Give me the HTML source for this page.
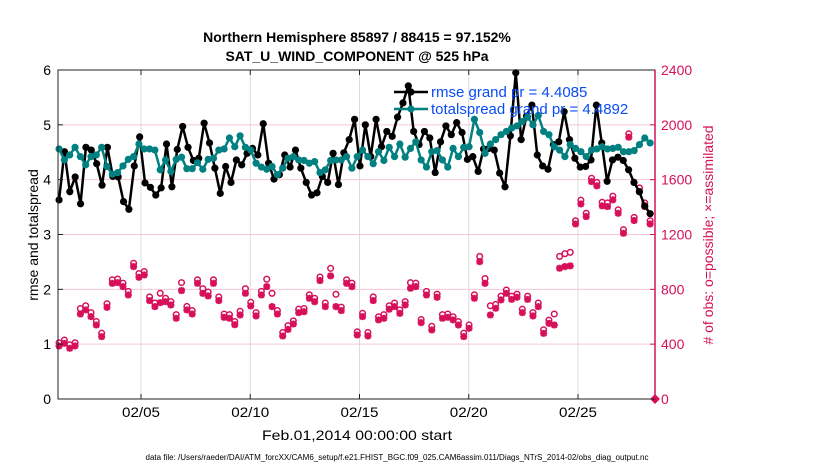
<!DOCTYPE html>
<html><head><meta charset="utf-8"><style>
body{margin:0;background:#fff;}
svg{display:block;font-family:"Liberation Sans",sans-serif;}
</style></head><body>
<svg id="chart" width="830" height="470" viewBox="0 0 830 470" xmlns="http://www.w3.org/2000/svg">
<rect width="830" height="470" fill="#fff"/>
<text x="357" y="42" text-anchor="middle" font-size="14" font-weight="bold">Northern Hemisphere 85897 / 88415 = 97.152%</text>
<text x="357" y="61" text-anchor="middle" font-size="14" font-weight="bold">SAT_U_WIND_COMPONENT @ 525 hPa</text>
<g id="grid"></g><g id="marks"></g><g id="axes"></g>
<text transform="translate(38,235) rotate(-90)" text-anchor="middle" font-size="14">rmse and totalspread</text>
<text transform="translate(713,235) rotate(-90)" text-anchor="middle" font-size="14" fill="#d6105a">#  of obs: o=possible; ×=assimilated</text>
<text x="357" y="440" text-anchor="middle" font-size="14" textLength="190" lengthAdjust="spacingAndGlyphs">Feb.01,2014 00:00:00 start</text>
<text x="397" y="460" text-anchor="middle" font-size="8" textLength="503" lengthAdjust="spacingAndGlyphs">data file: /Users/raeder/DAI/ATM_forcXX/CAM6_setup/f.e21.FHIST_BGC.f09_025.CAM6assim.011/Diags_NTrS_2014-02/obs_diag_output.nc</text>
<g id="legend"></g>
</svg>
<script>
const yTicks=[0,1,2,3,4,5,6];
const y2Ticks=[0,400,800,1200,1600,2000,2400];
const xTickDays=[5,10,15,20,25];
const xTickLabels=["02/05","02/10","02/15","02/20","02/25"];
const rmse=[3.63,4.51,3.78,4.05,3.56,4.59,4.54,4.29,3.90,4.59,4.06,4.05,3.60,3.46,4.25,4.78,3.94,3.86,3.72,3.85,4.65,3.87,4.55,4.97,4.59,4.35,4.39,5.03,4.67,
4.21,3.75,4.24,3.95,4.36,4.27,4.48,4.57,4.45,5.02,4.30,4.01,4.09,4.45,4.23,4.54,4.21,3.95,3.72,3.76,4.06,3.95,4.48,3.91,4.49,4.73,5.10,
4.25,5.00,4.42,5.10,4.60,4.88,4.79,5.14,5.40,5.71,4.88,4.64,4.88,4.76,4.13,4.69,4.98,4.82,5.04,4.86,4.37,4.42,4.15,4.56,4.57,4.54,4.12,3.87,
4.80,5.95,4.73,5.16,5.36,4.45,4.25,4.19,4.64,4.69,5.24,4.73,4.39,4.23,4.24,4.36,5.36,4.67,3.97,4.36,4.41,4.35,4.18,3.95,3.78,3.52,3.38];
const spread=[4.56,4.36,4.45,4.59,4.42,4.27,4.42,4.45,4.59,4.24,4.10,4.13,4.25,4.37,4.42,4.65,4.56,4.56,4.54,4.18,4.36,4.15,4.37,4.41,4.20,4.20,4.31,4.19,4.37,
4.39,4.54,4.56,4.76,4.60,4.80,4.59,4.54,4.30,4.23,4.19,4.24,4.09,4.21,4.39,4.42,4.36,4.35,4.30,4.33,4.13,4.18,4.35,4.36,4.36,4.42,4.21,4.42,4.54,
4.42,4.29,4.51,4.35,4.59,4.42,4.65,4.41,4.57,4.69,4.36,4.23,4.51,4.53,4.36,4.23,4.57,4.42,4.59,4.60,5.10,4.86,4.48,4.65,4.73,4.82,4.88,
4.94,4.98,5.06,5.14,5.00,5.17,4.88,4.82,4.60,4.54,4.42,4.64,4.57,4.51,4.42,4.54,4.56,4.60,4.56,4.57,4.59,4.51,4.51,4.53,4.64,4.76,4.67];
const assimilated=[387,406,370,387,620,650,601,540,455,669,844,849,820,759,966,888,905,718,674,703,710,686,589,791,650,620,844,771,752,
844,718,596,589,542,613,771,679,606,759,820,674,620,460,508,547,630,637,735,710,864,674,898,674,645,844,820,467,
601,460,718,577,589,655,674,625,686,808,820,557,759,504,742,589,596,577,540,455,516,735,1002,844,613,662,723,771,
727,742,630,727,606,674,479,552,540,954,966,971,1277,1423,1331,1586,1555,1409,1404,1453,1355,1209,1910,1302,1513,1404,1277];
const possible=[410,430,395,410,660,680,630,565,480,695,870,875,845,785,990,915,930,745,700,771,735,710,615,849,675,645,870,805,780,
870,745,620,615,565,640,805,705,630,785,874,771,645,485,535,570,655,660,760,735,890,700,953,764,670,870,845,490,
625,485,745,600,615,680,700,650,710,849,845,580,785,530,765,615,620,600,565,480,540,760,1040,879,680,690,750,795,
750,765,655,750,630,700,505,575,620,1040,1060,1070,1300,1450,1355,1610,1580,1435,1430,1480,1380,1235,1935,1325,1540,1430,1300];
const tStart=1.25, tEnd=28.3;
const L=58,R=655,T=70,B=399;
const xS=t=>141+(t-5)*21.85;
const yS=v=>B-(v/6)*(B-T);
const y2S=v=>B-(v/2400)*(B-T);
const tOf=(i,n)=>tStart+i*(tEnd-tStart)/(n-1);
const NS="http://www.w3.org/2000/svg";
function mk(tag,attrs,parent){const e=document.createElementNS(NS,tag);for(const k in attrs)e.setAttribute(k,attrs[k]);parent.appendChild(e);return e;}
const grid=document.getElementById('grid'),marks=document.getElementById('marks'),axes=document.getElementById('axes'),leg=document.getElementById('legend');
const RED="#d6105a",TEAL="#008080";
xTickDays.forEach((d,i)=>{const x=xS(d);
 const g=mk('line',{x1:x,x2:x,y1:T,y2:B,stroke:'#dcdcdc','stroke-width':1},grid);
 
 mk('line',{x1:x,x2:x,y1:B,y2:B-5,stroke:'#222'},axes);
 mk('line',{x1:x,x2:x,y1:T,y2:T+5,stroke:'#222'},axes);
 const t=mk('text',{x:x,y:417,'text-anchor':'middle','font-size':14,textLength:38,lengthAdjust:'spacingAndGlyphs'},axes);t.textContent=xTickLabels[i];
 });
y2Ticks.forEach(v=>{const y=y2S(v);
 if(v>0&&v<2400){const g=mk('line',{x1:L,x2:R,y1:y,y2:y,stroke:'#f5c6d6','stroke-width':1},grid);
 }
 mk('line',{x1:R,x2:R-5,y1:y,y2:y,stroke:RED},axes);
 const t=mk('text',{x:661,y:y+5,'font-size':14,fill:RED},axes);t.textContent=v;
 });
yTicks.forEach(v=>{const y=yS(v);
 mk('line',{x1:L,x2:L+5,y1:y,y2:y,stroke:'#222'},axes);
 const t=mk('text',{x:51,y:y+5,'text-anchor':'end','font-size':14},axes);t.textContent=v;
 });
mk('rect',{x:L,y:T,width:R-L,height:B-T,fill:'none',stroke:'#222','stroke-width':1},axes);
mk('line',{x1:R,x2:R,y1:T,y2:B,stroke:RED,'stroke-width':1.5},axes);
function star(x,y,p){const s=3.5;[[0,-s,0,s],[-s,0,s,0],[-s*.75,-s*.75,s*.75,s*.75],[-s*.75,s*.75,s*.75,-s*.75]].forEach(a=>mk('line',{x1:x+a[0],y1:y+a[1],x2:x+a[2],y2:y+a[3],stroke:RED,'stroke-width':2.2},p));}
possible.forEach((v,i)=>{const c=mk('circle',{cx:xS(tOf(i,possible.length)),cy:y2S(v),r:2.8,fill:'#fff',stroke:RED,'stroke-width':1.5},marks);
 });
assimilated.forEach((v,i)=>{const g=mk('g',{},marks);
 
 star(xS(tOf(i,assimilated.length)),y2S(v),g);});
const sq=mk('rect',{x:R-3.5,y:B-3.5,width:7,height:7,fill:RED,transform:`rotate(45 ${R} ${B})`},marks);

function series(arr,color,name){
 const pts=arr.map((v,i)=>[xS(tOf(i,arr.length)),yS(v)]);
 const p=mk('polyline',{points:pts.map(q=>q.join(',')).join(' '),fill:'none',stroke:color,'stroke-width':2.5,'stroke-linejoin':'round'},marks);
 
 pts.forEach(q=>{const c=mk('circle',{cx:q[0],cy:q[1],r:3.6,fill:color},marks);
  });}
series(rmse,'#000','rmse');
series(spread,TEAL,'totalspread');
[['#000','rmse grand pr = 4.4085',92],[TEAL,'totalspread grand pr = 4.4892',109]].forEach(e=>{
 mk('line',{x1:394,x2:428,y1:e[2],y2:e[2],stroke:e[0],'stroke-width':2.5},leg);
 mk('circle',{cx:411,cy:e[2],r:3.6,fill:e[0]},leg);
 const t=mk('text',{x:431,y:e[2]+5,'font-size':15,fill:'#0a4cf5'},leg);t.textContent=e[1];
 });
</script>
</body></html>
